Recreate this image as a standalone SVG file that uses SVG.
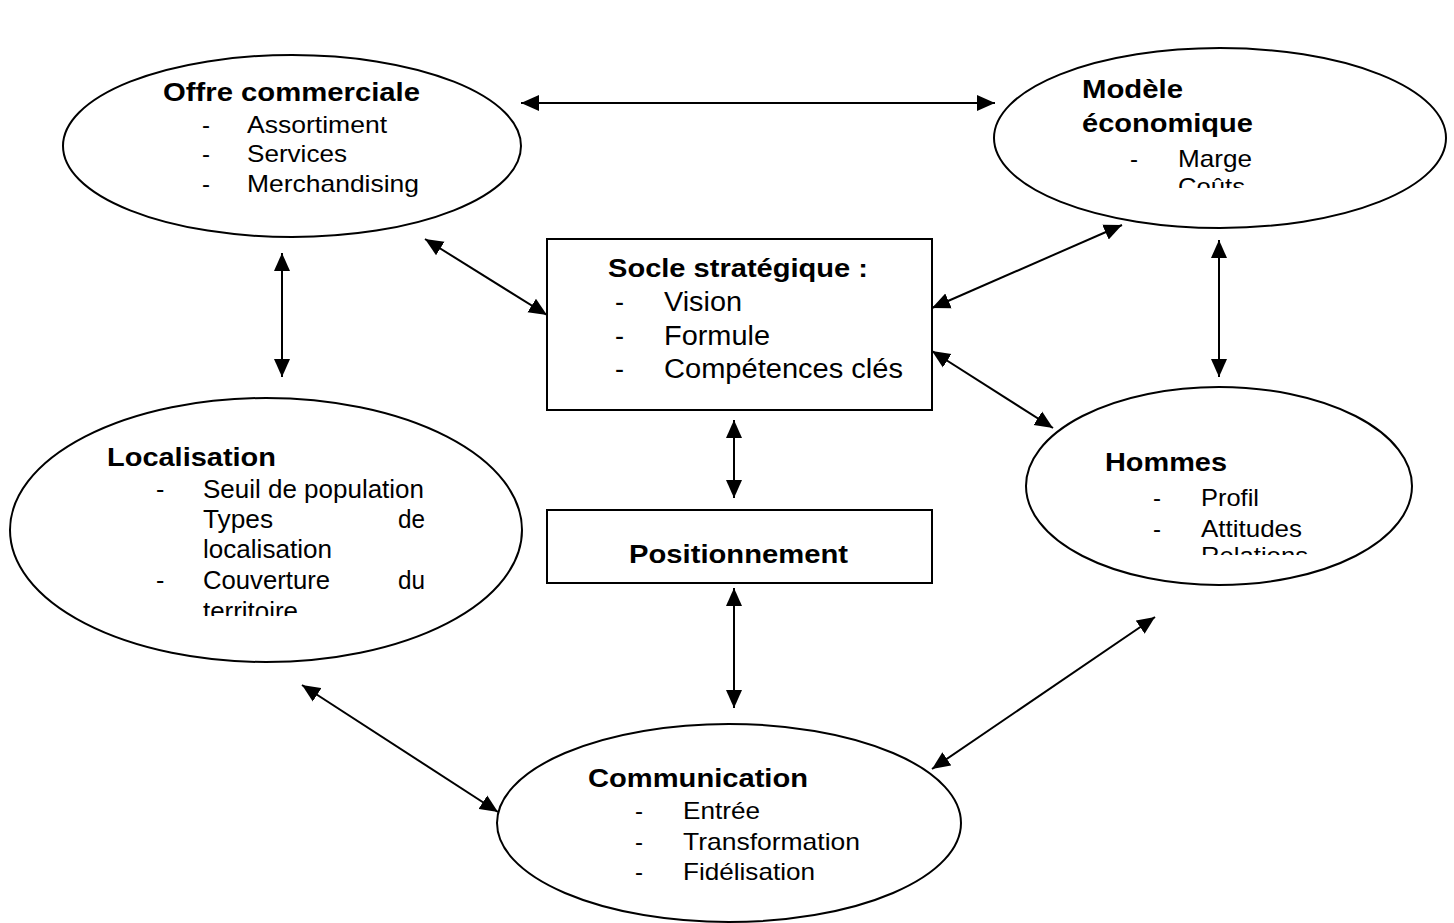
<svg xmlns="http://www.w3.org/2000/svg" width="1454" height="923" viewBox="0 0 1454 923">
<style>
.shape{fill:#fff;stroke:#000;stroke-width:2}
.t{font-family:"Liberation Sans",Arial,sans-serif;fill:#000}
.b{font-weight:bold;font-size:26px}
.i{font-size:24px}
.s{font-size:27px}
.l{font-size:25px}
.c{stroke:#000;stroke-width:2;fill:none;marker-start:url(#ah);marker-end:url(#ah)}
</style>
<defs>
<marker id="ah" markerUnits="userSpaceOnUse" markerWidth="19" markerHeight="17" refX="18" refY="8" orient="auto-start-reverse" viewBox="0 0 19 16">
<path d="M0,0 L18,8 L0,16 z" fill="#000"/>
</marker>
<clipPath id="clipM"><rect x="1000" y="40" width="400" height="148"/></clipPath>
<clipPath id="clipL"><rect x="20" y="400" width="480" height="216"/></clipPath>
<clipPath id="clipH"><rect x="1030" y="390" width="370" height="165"/></clipPath>
</defs>
<rect width="1454" height="923" fill="#fff"/>
<g id="connectors">
<line class="c" x1="521" y1="103" x2="995" y2="103"/>
<line class="c" x1="425" y1="239" x2="547" y2="315"/>
<line class="c" x1="1122" y1="225" x2="932" y2="308"/>
<line class="c" x1="1219" y1="240" x2="1219" y2="377"/>
<line class="c" x1="932" y1="351" x2="1053" y2="428"/>
<line class="c" x1="282" y1="253" x2="282" y2="377"/>
<line class="c" x1="734" y1="420" x2="734" y2="498"/>
<line class="c" x1="734" y1="588" x2="734" y2="708"/>
<line class="c" x1="302" y1="685" x2="498" y2="812"/>
<line class="c" x1="1155" y1="617" x2="932" y2="769"/>
</g>
<g id="offre">
<ellipse class="shape" cx="292" cy="146" rx="229" ry="91"/>
<text class="t b" x="163" y="101" textLength="257" lengthAdjust="spacingAndGlyphs">Offre commerciale</text>
<text class="t i" x="202" y="133">-</text>
<text class="t i" x="247" y="133" textLength="140" lengthAdjust="spacingAndGlyphs">Assortiment</text>
<text class="t i" x="202" y="162">-</text>
<text class="t i" x="247" y="162" textLength="100" lengthAdjust="spacingAndGlyphs">Services</text>
<text class="t i" x="202" y="192">-</text>
<text class="t i" x="247" y="192" textLength="172" lengthAdjust="spacingAndGlyphs">Merchandising</text>
</g>
<g id="modele">
<ellipse class="shape" cx="1220" cy="138" rx="226" ry="90"/>
<g clip-path="url(#clipM)">
<text class="t b" x="1082" y="98" textLength="101" lengthAdjust="spacingAndGlyphs">Modèle</text>
<text class="t b" x="1082" y="132" textLength="171" lengthAdjust="spacingAndGlyphs">économique</text>
<text class="t i" x="1130" y="167">-</text>
<text class="t i" x="1178" y="167" textLength="74" lengthAdjust="spacingAndGlyphs">Marge</text>
<text class="t i" x="1178" y="195" textLength="67" lengthAdjust="spacingAndGlyphs">Coûts</text>
</g>
</g>
<g id="socle">
<rect class="shape" x="547" y="239" width="385" height="171"/>
<text class="t b" x="608" y="277" textLength="260" lengthAdjust="spacingAndGlyphs">Socle stratégique :</text>
<text class="t s" x="615" y="311">-</text>
<text class="t s" x="664" y="311" textLength="78" lengthAdjust="spacingAndGlyphs">Vision</text>
<text class="t s" x="615" y="345">-</text>
<text class="t s" x="664" y="345" textLength="106" lengthAdjust="spacingAndGlyphs">Formule</text>
<text class="t s" x="615" y="378">-</text>
<text class="t s" x="664" y="378" textLength="239" lengthAdjust="spacingAndGlyphs">Compétences clés</text>
</g>
<g id="positionnement">
<rect class="shape" x="547" y="510" width="385" height="73"/>
<text class="t b" x="629" y="563" textLength="219" lengthAdjust="spacingAndGlyphs">Positionnement</text>
</g>
<g id="localisation">
<ellipse class="shape" cx="266" cy="530" rx="256" ry="132"/>
<g clip-path="url(#clipL)">
<text class="t b" x="107" y="466" textLength="169" lengthAdjust="spacingAndGlyphs">Localisation</text>
<text class="t l" x="156" y="498">-</text>
<text class="t l" x="203" y="498" textLength="221" lengthAdjust="spacingAndGlyphs">Seuil de population</text>
<text class="t l" x="203" y="528" textLength="70" lengthAdjust="spacingAndGlyphs">Types</text>
<text class="t l" x="398" y="528" textLength="27" lengthAdjust="spacingAndGlyphs">de</text>
<text class="t l" x="203" y="558" textLength="129" lengthAdjust="spacingAndGlyphs">localisation</text>
<text class="t l" x="156" y="589">-</text>
<text class="t l" x="203" y="589" textLength="127" lengthAdjust="spacingAndGlyphs">Couverture</text>
<text class="t l" x="398" y="589" textLength="27" lengthAdjust="spacingAndGlyphs">du</text>
<text class="t l" x="203" y="620" textLength="95" lengthAdjust="spacingAndGlyphs">territoire</text>
</g>
</g>
<g id="hommes">
<ellipse class="shape" cx="1219" cy="486" rx="193" ry="99"/>
<g clip-path="url(#clipH)">
<text class="t b" x="1105" y="471" textLength="122" lengthAdjust="spacingAndGlyphs">Hommes</text>
<text class="t i" x="1153" y="506">-</text>
<text class="t i" x="1201" y="506" textLength="58" lengthAdjust="spacingAndGlyphs">Profil</text>
<text class="t i" x="1153" y="537">-</text>
<text class="t i" x="1201" y="537" textLength="101" lengthAdjust="spacingAndGlyphs">Attitudes</text>
<text class="t i" x="1201" y="564" textLength="107" lengthAdjust="spacingAndGlyphs">Relations</text>
</g>
</g>
<g id="communication">
<ellipse class="shape" cx="729" cy="823" rx="232" ry="99"/>
<text class="t b" x="588" y="787" textLength="220" lengthAdjust="spacingAndGlyphs">Communication</text>
<text class="t i" x="635" y="819">-</text>
<text class="t i" x="683" y="819" textLength="77" lengthAdjust="spacingAndGlyphs">Entrée</text>
<text class="t i" x="635" y="850">-</text>
<text class="t i" x="683" y="850" textLength="177" lengthAdjust="spacingAndGlyphs">Transformation</text>
<text class="t i" x="635" y="880">-</text>
<text class="t i" x="683" y="880" textLength="132" lengthAdjust="spacingAndGlyphs">Fidélisation</text>
</g>
</svg>
